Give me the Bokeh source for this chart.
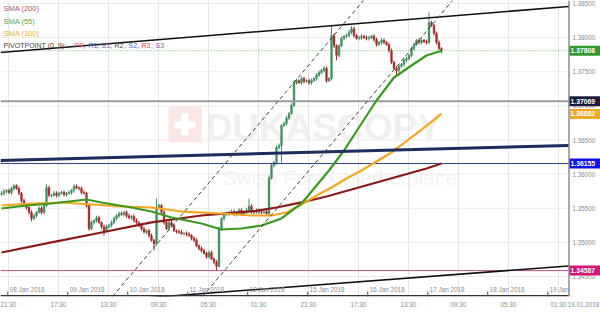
import numpy as np
from bokeh.plotting import figure
from bokeh.models import FixedTicker, Label, ColumnDataSource, Range1d
from bokeh.core.properties import value
from bokeh.embed import file_html
from bokeh.resources import INLINE

# ---------------- data (hourly candles, closes in 1e-4 units) ----------------
first_open = 13570
closes = [
    13572, 13575, 13576, 13573, 13579, 13583, 13579, 13572, 13561, 13554,
    13551, 13544, 13535, 13539, 13544, 13550, 13544, 13554, 13580, 13569,
    13569, 13572, 13569, 13572, 13573, 13570, 13572, 13573, 13576, 13582,
    13580, 13579, 13573, 13572, 13554, 13520, 13529, 13532, 13536, 13529,
    13523, 13517, 13523, 13525, 13529, 13535, 13539, 13542, 13541, 13544,
    13539, 13536, 13538, 13532, 13529, 13525, 13520, 13515, 13517, 13510,
    13503, 13498, 13551, 13554, 13544, 13529, 13520, 13529, 13525, 13517,
    13516, 13515, 13513, 13513, 13512, 13510, 13506, 13503, 13495, 13491,
    13488, 13484, 13479, 13485, 13476, 13471, 13465, 13520, 13535, 13541,
    13542, 13544, 13545, 13541, 13544, 13547, 13542, 13545, 13547, 13553,
    13545, 13544, 13547, 13545, 13544, 13545, 13542, 13594, 13613, 13617,
    13639, 13642, 13671, 13674, 13682, 13689, 13701, 13734, 13737, 13734,
    13740, 13736, 13737, 13734, 13737, 13740, 13745, 13749, 13752, 13755,
    13737, 13740, 13803, 13788, 13774, 13788, 13799, 13802, 13803, 13808,
    13813, 13803, 13799, 13800, 13802, 13800, 13799, 13800, 13802, 13797,
    13790, 13793, 13796, 13793, 13790, 13781, 13764, 13755, 13752, 13758,
    13761, 13767, 13769, 13774, 13784, 13790, 13796, 13793, 13796, 13794,
    13793, 13822, 13818, 13806, 13793, 13784, 13781,
]
hi_ext = [
    3, 3, 2, 3, 3, 3, 2, 3, 2, 3, 3, 2, 3, 3, 2, 3, 3, 2, 5, 3,
    2, 3, 3, 2, 3, 3, 2, 3, 2, 3, 3, 2, 3, 3, 2, 3, 3, 2, 3, 3,
    2, 3, 3, 2, 3, 3, 2, 3, 3, 2, 3, 3, 2, 3, 3, 2, 3, 3, 2, 3,
    3, 2, 13, 3, 2, 3, 3, 2, 3, 3, 2, 3, 3, 2, 3, 3, 2, 3, 3, 2,
    3, 3, 2, 3, 3, 2, 3, 3, 2, 3, 3, 2, 3, 3, 2, 3, 3, 2, 3, 11,
    3, 2, 3, 3, 2, 3, 3, 4, 3, 2, 3, 3, 2, 3, 3, 2, 3, 4, 3, 2,
    3, 3, 2, 3, 3, 2, 3, 3, 2, 3, 3, 2, 15, 3, 2, 3, 3, 2, 3, 3,
    4, 3, 2, 3, 3, 2, 3, 3, 2, 3, 3, 2, 3, 3, 2, 3, 3, 2, 3, 3,
    2, 3, 3, 2, 3, 3, 2, 3, 3, 2, 3, 15, 3, 2, 3, 3, 2,
]
lo_ext = [
    2, 3, 3, 2, 3, 3, 2, 3, 3, 2, 3, 3, 4, 3, 3, 2, 3, 3, 2, 3,
    3, 2, 3, 3, 2, 3, 3, 2, 3, 3, 2, 3, 3, 2, 3, 3, 2, 3, 3, 2,
    3, 7, 2, 3, 3, 2, 3, 3, 2, 3, 3, 2, 3, 3, 2, 3, 3, 2, 3, 3,
    2, 10, 3, 2, 3, 3, 2, 3, 3, 2, 3, 3, 2, 3, 3, 2, 3, 3, 2, 3,
    3, 2, 3, 3, 2, 3, 6, 2, 3, 3, 2, 3, 3, 2, 3, 3, 2, 3, 3, 2,
    3, 3, 2, 3, 3, 2, 3, 3, 2, 3, 3, 3, 25, 2, 3, 3, 2, 3, 3, 2,
    3, 3, 2, 3, 3, 2, 3, 3, 2, 3, 3, 2, 3, 3, 7, 3, 2, 3, 3, 2,
    3, 3, 2, 3, 3, 2, 3, 3, 2, 3, 3, 2, 3, 3, 2, 3, 3, 2, 7, 3,
    2, 3, 3, 2, 3, 3, 2, 3, 3, 2, 3, 3, 2, 3, 3, 2, 4,
]

# moving averages (candle index, price)
sma200_x = [0, 20, 40, 60, 80, 100, 110, 120, 130, 140, 150, 160, 170, 176]
sma200_y = [1.34852, 1.34999, 1.35145, 1.35292, 1.35394, 1.35453, 1.35511,
            1.35585, 1.35673, 1.35775, 1.35878, 1.35980, 1.36083, 1.36156]
sma55_x = [0, 10, 20, 34, 40, 52, 60, 68, 80, 88, 96, 104, 112, 120, 126,
           131, 137, 144, 150, 157, 164, 170, 176]
sma55_y = [1.35496, 1.35540, 1.35570, 1.35628, 1.35584, 1.35511, 1.35452,
           1.35365, 1.35277, 1.35189, 1.35203, 1.35247, 1.35350, 1.35570,
           1.35833, 1.36053, 1.36346, 1.36742, 1.37079, 1.37416, 1.37592,
           1.37738, 1.37808]
sma100_x = [0, 12, 24, 36, 48, 60, 72, 88, 100, 108, 114, 120, 126, 132,
            138, 144, 156, 166, 176]
sma100_y = [1.35540, 1.35570, 1.35584, 1.35555, 1.35526, 1.35511, 1.35452,
            1.35423, 1.35394, 1.35394, 1.35438, 1.35555, 1.35687, 1.35804,
            1.35936, 1.36053, 1.36317, 1.36595, 1.36882]

# horizontal levels
last_price = 1.37808
level_gray = 1.37069
level_navy = 1.36155
level_magenta = 1.34587
tag_prices = [1.37808, 1.37069, 1.36882, 1.36155, 1.34587]
tag_texts = ["1.37808", "1.37069", "1.36882", "1.36155", "1.34587"]
tag_colors = ["#2f9a2f", "#1c1c3c", "#f0a820", "#1414e6", "#d4157a"]

# trend lines (candle index, price)
upper_x, upper_y = [-0.4, 226.8], [1.37782, 1.38456]
navy_x, navy_y = [-0.4, 226.8], [1.36200, 1.36419]
lower_x, lower_y = [59.6, 226.8], [1.34192, 1.34654]
dash1_x, dash1_y = [44.4, 144.8], [1.34207, 1.38544]
dash2_x, dash2_y = [80.4, 180.4], [1.34207, 1.38544]

# axis labels
y_ticks = [1.345, 1.350, 1.355, 1.360, 1.365, 1.370, 1.375, 1.380, 1.385]
y_tick_labels = ["1.34500", "1.35000", "1.35500", "1.36000", "1.36500",
                 "1.37000", "1.37500", "1.38000", "1.38500"]
day_labels = ["08 Jan 2018", "09 Jan 2018", "10 Jan 2018", "11 Jan 2018", "12 Jan 2018",
              "15 Jan 2018", "16 Jan 2018", "17 Jan 2018", "18 Jan 2018", "19 Jan"]
day_pos = [2.5, 26.5, 50.5, 74.5, 98.5, 122.5, 146.5, 170.5, 194.5, 218.5]
time_pos = [2.8, 22.8, 42.8, 62.8, 82.8, 102.8, 122.8, 142.8, 162.8, 182.8, 202.8, 222.8]
time_labels = ["21:30", "17:30", "13:30", "09:30", "05:30", "01:30",
               "21:30", "17:30", "13:30", "09:30", "05:30", "01:30"]
end_date = "19.01.2018"

# ---------------- geometry helpers (for annotations / chrome) ----------------
FW, FH = 600, 296
X0 = -0.4
DXP = 0.4                      # candle-index units per pixel
X1 = X0 + FW * DXP
Y0, Y1 = 1.34207, 1.38544
PLOT_R = 568                   # right edge of the price area (pixels)


def px2x(px):
    return X0 + px * DXP


def px2y(py):
    return Y1 - py * (Y1 - Y0) / FH


DY = (Y1 - Y0) / FH
XR = px2x(PLOT_R)
FONT = value("Liberation Sans")
GREY_TXT = "#8c8c8c"
SMALL = "6.3px"

p = figure(width=600, height=320, frame_width=FW, frame_height=FH,
           x_range=Range1d(X0, X1), y_range=Range1d(Y0, Y1),
           y_axis_location=None, toolbar_location=None, output_backend="svg",
           min_border_left=0, min_border_top=0, min_border_right=0, min_border_bottom=24,
           background_fill_color="white", border_fill_color="white")
p.outline_line_color = None

# grid
p.xgrid.ticker = FixedTicker(ticks=time_pos)
p.xgrid.grid_line_color = "#e6e6e6"
p.ygrid.visible = False
p.segment(x0=[X0] * len(y_ticks), x1=[XR] * len(y_ticks), y0=y_ticks, y1=y_ticks,
          line_color="#ececec", line_width=1, level="underlay")

# watermark
p.quad(left=[px2x(168)], right=[px2x(201)], top=[px2y(106)], bottom=[px2y(142)],
       fill_color="#fbe6e6", line_color=None, level="underlay")
p.quad(left=[px2x(181)], right=[px2x(188)], top=[px2y(113)], bottom=[px2y(135)],
       fill_color="white", line_color=None, level="underlay")
p.quad(left=[px2x(174)], right=[px2x(195)], top=[px2y(121)], bottom=[px2y(128)],
       fill_color="white", line_color=None, level="underlay")
p.text(x=[px2x(205)], y=[px2y(127)], text=["DUKASCOPY"], text_font=FONT,
       text_font_style="bold", text_font_size="37px", text_color="#f0f0f0",
       text_baseline="middle", text_align="left", level="underlay")
p.text(x=[px2x(222)], y=[px2y(177)], text=["Swiss Forex Marketplace"], text_font=FONT,
       text_font_size="21px", text_color="#f3f3f3",
       text_baseline="middle", text_align="left", level="underlay")

# bottom axis: time labels (plus end date under the price scale)
p.xaxis.ticker = FixedTicker(ticks=time_pos + [px2x(583)])
overrides = {k: v for k, v in zip(time_pos, time_labels)}
overrides[px2x(583)] = end_date
p.xaxis.major_label_overrides = overrides
p.xaxis.major_label_text_font_size = SMALL
p.xaxis.major_label_text_font = "Liberation Sans"
p.xaxis.major_label_text_color = GREY_TXT
p.xaxis.axis_line_color = None
p.xaxis.major_tick_in = 0
p.xaxis.major_tick_out = 0
p.xaxis.minor_tick_in = 0
p.xaxis.minor_tick_out = 0
p.xaxis.major_label_standoff = 4

# candles
o = [first_open] + closes[:-1]
c = closes
hi = [max(a, b) + e for a, b, e in zip(o, c, hi_ext)]
lo = [min(a, b) - e for a, b, e in zip(o, c, lo_ext)]
idx = list(range(len(c)))
top = [max(a, b) / 10000 for a, b in zip(o, c)]
bot = [min(a, b) / 10000 for a, b in zip(o, c)]
bot = [b - 0.00003 if t == b else b for t, b in zip(top, bot)]
col = ["#3e8f5e" if b >= a else "#a52c2c" for a, b in zip(o, c)]
src = ColumnDataSource(dict(x=idx, top=top, bottom=bot, high=[h / 10000 for h in hi],
                            low=[l / 10000 for l in lo], color=col))
p.segment(x0="x", x1="x", y0="low", y1="high", color="color", line_width=1, source=src)
p.vbar(x="x", width=0.7, top="top", bottom="bottom", fill_color="color",
       line_color="color", line_width=0.5, source=src)

# horizontal levels (stop at the price scale)
p.segment(x0=[X0], x1=[XR], y0=[level_gray], y1=[level_gray], line_color="#9a9a9a", line_width=2)
p.segment(x0=[X0], x1=[XR], y0=[level_navy], y1=[level_navy], line_color="#2c3c8c", line_width=1)
p.segment(x0=[X0], x1=[XR], y0=[level_magenta], y1=[level_magenta], line_color="#c8508c", line_width=1)
p.segment(x0=[X0], x1=[XR], y0=[last_price], y1=[last_price], line_color="#5cb85c",
          line_width=1, line_dash="1 2")

# moving averages
p.line(sma200_x, sma200_y, line_color="#8b1a1a", line_width=2.2)
p.line(sma100_x, sma100_y, line_color="#f5a623", line_width=2.2)
p.line(sma55_x, sma55_y, line_color="#3a9a1e", line_width=2.2)

# trend lines
p.line(upper_x, upper_y, line_color="#111111", line_width=1.6)
p.line(navy_x, navy_y, line_color="#1c2d5e", line_width=3)
p.line(lower_x, lower_y, line_color="#111111", line_width=1.6)
p.line(dash1_x, dash1_y, line_color="#444444", line_width=1, line_dash="4 3")
p.line(dash2_x, dash2_y, line_color="#444444", line_width=1, line_dash="4 3")

# bottom axis line and right price-scale line
p.segment(x0=[X0], x1=[XR], y0=[px2y(295.3)], y1=[px2y(295.3)], line_color="#333333", line_width=1.5)
p.segment(x0=[px2x(PLOT_R + 0.5)], x1=[px2x(PLOT_R + 0.5)], y0=[Y0], y1=[Y1],
          line_color="#555555", line_width=1)

# day markers inside the frame
p.segment(x0=day_pos, x1=day_pos, y0=[px2y(296)] * len(day_pos), y1=[px2y(291)] * len(day_pos),
          line_color="#555555", line_width=1)
p.text(x=[d + 2 * DXP for d in day_pos], y=[px2y(288.5)] * len(day_pos), text=day_labels,
       text_font=FONT, text_font_size=SMALL, text_color=GREY_TXT,
       text_baseline="middle", text_align="left")

# price scale labels
p.text(x=[px2x(572)] * len(y_ticks), y=y_ticks, text=y_tick_labels, text_font=FONT,
       text_font_size=SMALL, text_color=GREY_TXT, text_baseline="middle", text_align="left")

# price tags
p.quad(left=[px2x(569)] * len(tag_prices), right=[px2x(600)] * len(tag_prices),
       top=[t + 5 * DY for t in tag_prices], bottom=[t - 5 * DY for t in tag_prices],
       fill_color=tag_colors, line_color=None)
p.text(x=[px2x(570)] * len(tag_prices), y=tag_prices, text=tag_texts, text_font=FONT,
       text_font_size="6.8px", text_font_style="bold", text_color="white",
       text_baseline="middle", text_align="left")

# legend (top-left)
legend_items = [("SMA (200)", "#b4506a", 8), ("SMA (55)", "#5aa845", 21), ("SMA (100)", "#f0b030", 33)]
for tx, cl, py in legend_items:
    p.add_layout(Label(x=px2x(3), y=px2y(py), text=tx, text_font="Liberation Sans",
                       text_font_size="7.5px", text_color=cl, text_baseline="middle"))

pivot_parts = [("PIVOTPOINT (0, 9):", "#444444", 3), ("PP", "#e0506a", 74), (",", "#444444", 83),
               ("R1", "#4a5ac8", 88), (",", "#444444", 96.5), ("S1", "#6a50c0", 101),
               (",", "#444444", 109.5), ("R2", "#444444", 114), (",", "#444444", 123.5),
               ("S2", "#5a60c8", 128), (",", "#444444", 136.5), ("R3", "#e04040", 141),
               (",", "#444444", 150.5), ("S3", "#8a50b8", 155)]
for tx, cl, px in pivot_parts:
    p.add_layout(Label(x=px2x(px), y=px2y(45), text=tx, text_font="Liberation Sans",
                       text_font_size="7px", text_color=cl, text_baseline="middle"))

open("out.html", "w").write(file_html(p, INLINE))
